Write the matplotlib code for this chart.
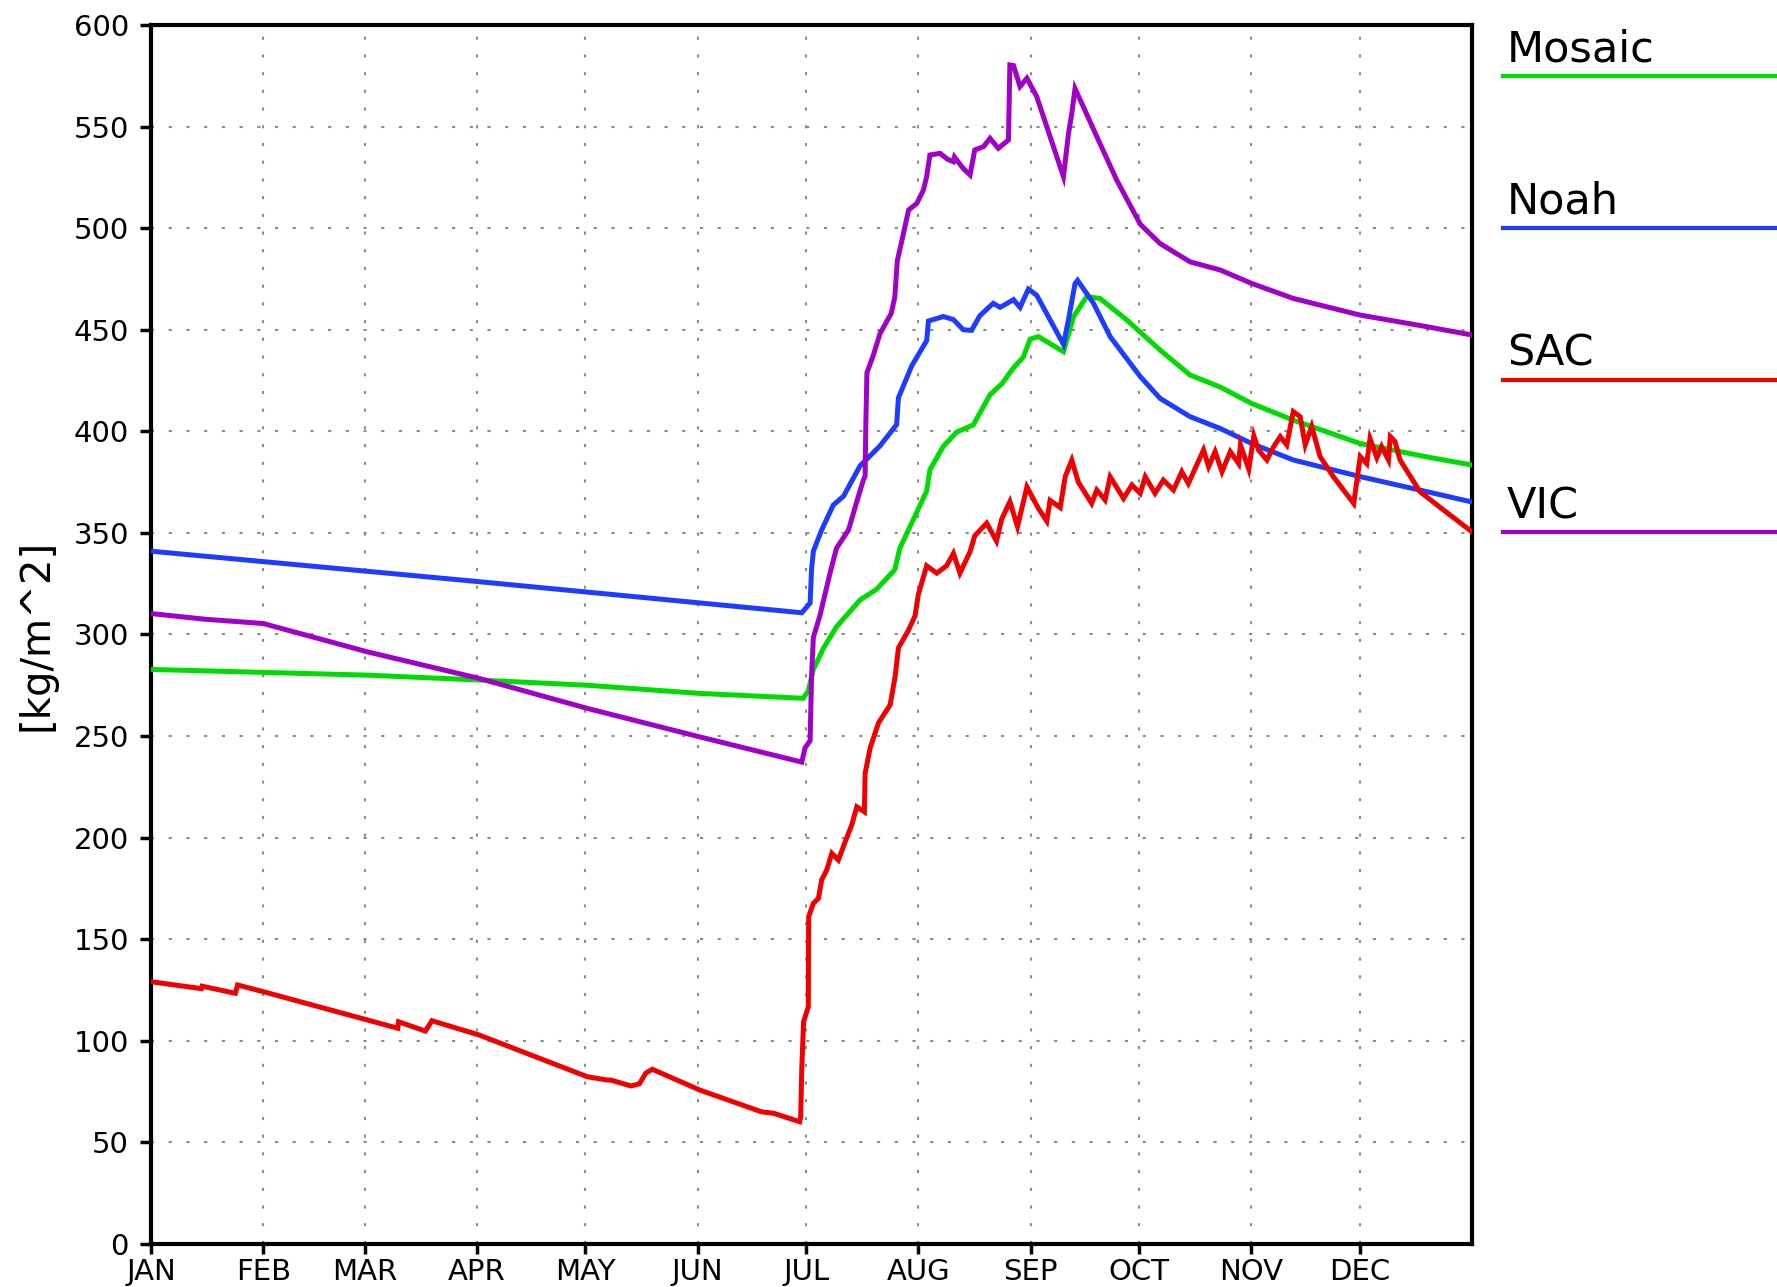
import matplotlib
matplotlib.use("Agg")
import matplotlib.pyplot as plt
from matplotlib.lines import Line2D

# eixo x em dias do ano (0 = 1 jan), valores em kg/m^2
meses = ["JAN", "FEB", "MAR", "APR", "MAY", "JUN", "JUL", "AUG", "SEP", "OCT", "NOV", "DEC"]
inicio_mes = [0, 31, 59, 90, 120, 151, 181, 212, 243, 273, 304, 334]
y_ticks = list(range(0, 601, 50))

mosaic_dia = [0, 59.7, 90.6, 120.6, 151.6, 180.2, 181.6, 183, 185.8, 189.4, 195.9, 200.5, 205.5,
              206.9, 211.6, 214.3, 215.2, 218.9, 222.6, 227.2, 231.8, 235.1, 238.3, 241, 242.9,
              245.2, 252.1, 254.9, 258.5, 262.2, 269.6, 278.8, 287.1, 295.4, 304.1, 315.6,
              334.1, 352.5, 365]
mosaic_val = [282.8, 280, 277.6, 275, 271, 268.6, 272.3, 282.8, 293.3, 303.8, 317, 322.3, 331.9,
              342.5, 360.3, 370.6, 381.1, 392.6, 399.6, 403.2, 418, 423.4, 431.3, 436.5, 445.4,
              446.6, 439.2, 456.4, 466.3, 465.4, 454.8, 440, 427.7, 421.8, 413.7, 405.5,
              394, 387.4, 383.4]

noah_dia = [0, 90.6, 179.8, 182.1, 182.5, 183, 185.3, 188.5, 191.3, 195.9, 201.4, 206, 206.5,
            210.2, 214.3, 214.8, 218.9, 221.7, 224.4, 226.7, 229, 232.7, 234.6, 238.3, 240.1,
            242.4, 244.7, 252.1, 253.5, 255.3, 256, 260.4, 265, 273.3, 278.8, 287.1, 295.4,
            304.1, 315.6, 334.1, 352.5, 365]
noah_val = [341, 326, 310.7, 315.5, 332, 341, 351.5, 363.7, 368, 383, 392.8, 403.3, 416.5,
            432.3, 444.6, 454.3, 456.5, 455, 450, 449.7, 456.9, 463, 461, 464.8, 461,
            470, 467, 442.8, 455, 472.7, 474.3, 463, 446.6, 427, 416.2, 407.2, 401.4,
            394, 385.9, 377.7, 370.3, 365.2]

sac_dia = [0, 13.9, 14.1, 23.3, 23.9, 31, 59.7, 68.2, 68.4, 75.8, 77.6, 90.6, 120.6, 126.1, 127,
           132.6, 134.9, 136.7, 138.5, 151.6, 168.6, 172.1, 179.2, 179.5, 179.8, 180.3, 181.6,
           181.7, 183, 184.4, 185.3, 186.7, 188.1, 189.9, 191.8, 193.6, 195, 197.1, 197.3,
           198.7, 201, 204.2, 205.6, 206.5, 209.3, 211.1, 212, 214.3, 217.1, 219.8, 221.7,
           223.5, 226.3, 227.6, 230.9, 233.6, 235, 237.3, 239.4, 242, 245.2, 247.5, 248.4,
           251.2, 252.6, 254.4, 256.2, 259.9, 261.3, 263.6, 265, 268.7, 271, 273.3, 274.7,
           277.4, 279.7, 282.5, 284.8, 286.6, 290.8, 292.2, 294, 295.9, 298.2, 300.5, 301,
           303.3, 304.7, 306, 308.3, 310.2, 312, 313.8, 315.6, 317.5, 318.9, 320.7, 323,
           326.7, 332.3, 333.2, 334.1, 335.9, 336.8, 338.7, 340, 341.9, 342.4, 343.7, 345.1,
           350.6, 357.1, 365]
sac_val = [129.1, 125.7, 126.9, 123.4, 127.5, 124.2, 110.3, 106.2, 109.4, 104.8, 109.9, 102.9,
           82.3, 80.7, 80.7, 77.8, 78.8, 84.1, 86, 75.8, 65.1, 64.3, 60.2, 62.6, 86.4, 109.4,
           116.8, 161.1, 167.7, 170.1, 179.2, 184.1, 192.3, 189, 198, 206.2, 215.2, 212.7,
           231.6, 244.2, 256.5, 265.3, 279.4, 293.4, 302.2, 309.2, 319.7, 333.8, 330.2, 333.8,
           339.9, 330.2, 340.8, 348.6, 354.8, 346, 356.6, 365.4, 353.1, 372.6, 362, 355.8, 366,
           362.5, 377.8, 385.8, 375, 364.5, 371.1, 366.2, 377.6, 367, 373.6, 369.5, 377.6,
           369.5, 376, 371.1, 380.1, 374.3, 390.8, 382.6, 390, 380.1, 390, 384.1, 393.3,
           381.4, 397.8, 390.8, 385.9, 392.5, 397.4, 393.3, 409.7, 407.2, 393.3, 402.4, 387.6,
           377.6, 364.5, 376, 387.6, 384.1, 396.4, 387, 392.5, 385.9, 397.4, 395, 385.9,
           370.3, 361.3, 350.5]

vic_dia = [0, 15, 31, 59.7, 90.6, 120.6, 151.6, 179.8, 180.7, 182.1, 182.5, 183, 184.8, 187.6,
           189.4, 192.7, 195, 196.8, 197.3, 197.5, 197.8, 199.6, 201.4, 204.5, 205.5, 206.2,
           207.9, 209.3, 211.6, 213.4, 214.3, 215.2, 218, 220, 221.7, 222, 224.4, 226.3, 227.6,
           230, 231.8, 234.1, 236.9, 237.3, 238.3, 240.1, 242, 244.7, 248.4, 252.1, 253.5,
           254.4, 255.3, 257.6, 262.2, 266.8, 273.3, 278.8, 287.1, 295.4, 304.1, 315.6,
           334.1, 352.5, 365]
vic_val = [310.3, 307.5, 305.4, 291.5, 278.4, 263.6, 249.6, 237.2, 244.2, 247.7, 279.4, 298.6,
           309.2, 330.2, 342.5, 351.4, 365.4, 376, 378, 404, 428.8, 437.6, 448.1, 458, 466,
           484, 497.4, 508.9, 512.2, 518.8, 525.3, 536, 536.8, 534, 532.7, 535, 529.4, 526.2,
           538.5, 540.1, 544.2, 539.3, 543.4, 580.3, 580, 569.7, 573.8, 564.8, 545.1, 525.4,
           546.6, 556.4, 568.7, 559.7, 541.6, 523.7, 502, 492.4, 483.4, 479.4, 472.8, 465.4,
           457.2, 451.5, 447.4]

nomes = ["Mosaic", "Noah", "SAC", "VIC"]
cores = ["#00DC00", "#1E3CFF", "#F00000", "#A000C8"]
series = [(mosaic_dia, mosaic_val), (noah_dia, noah_val), (sac_dia, sac_val), (vic_dia, vic_val)]

fig = plt.figure(figsize=(17.77, 12.87), dpi=100)
ax = fig.add_axes([0.085, 0.0334, 0.7434, 0.9472])

for (dias, vals), cor in zip(series, cores):
    ax.plot(dias, vals, color=cor, linewidth=3.6, solid_joinstyle="miter", zorder=3)

ax.set_xlim(0, 365)
ax.set_ylim(0, 600)
ax.set_xticks(inicio_mes)
ax.set_xticklabels(meses)
ax.set_yticks(y_ticks)
ax.grid(True, color="#8c8c8c", linestyle=(0, (1.5, 7)), linewidth=1.5, zorder=1)
for sp in ax.spines.values():
    sp.set_linewidth(3)
ax.tick_params(axis="y", length=8, width=2.5, pad=8, labelsize=21, direction="out")
ax.tick_params(axis="x", length=7, width=2.5, pad=3, labelsize=21, direction="out")

fig.text(37 / 1777, 1 - 635 / 1287, "[kg/m^2]", rotation=90, fontsize=29,
         ha="center", va="center")

# legenda lateral ao estilo GrADS
linha_y = [76, 228, 380, 532]
for nome, cor, ly in zip(nomes, cores, linha_y):
    fig.add_artist(Line2D([1503 / 1777, 1.0], [1 - ly / 1287, 1 - ly / 1287],
                          color=cor, linewidth=3, transform=fig.transFigure))
    fig.text(1507 / 1777, 1 - (ly - 14) / 1287, nome, fontsize=31, ha="left", va="baseline")

fig.savefig("out.png", dpi=100)
